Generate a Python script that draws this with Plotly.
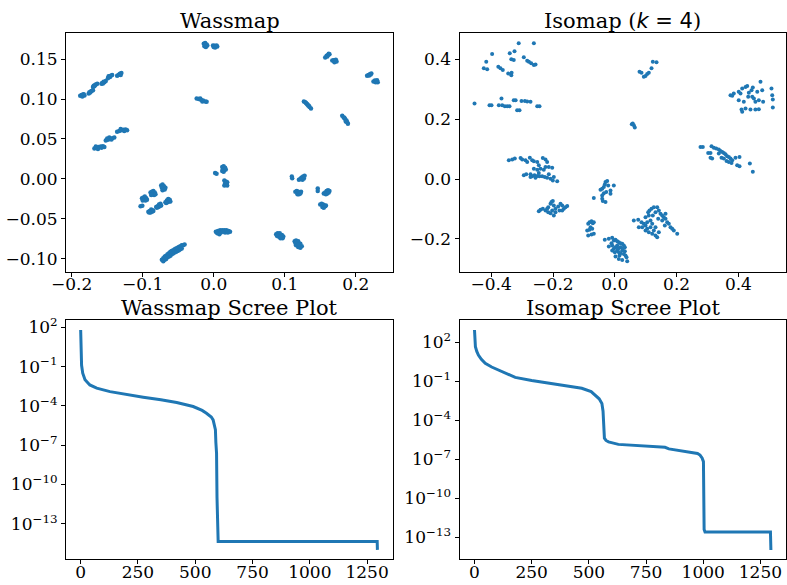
import plotly.graph_objects as go

W, H = 787, 585
BLUE = "#1f77b4"
FONT = "DejaVu Serif"

# ---------------- Wassmap embedding ----------------
wass_pts = [
    # top middle pair
    (-0.014,0.169),(-0.012,0.170),(-0.010,0.168),(-0.013,0.166),(-0.011,0.165),(-0.009,0.167),(-0.012,0.1675),
    (-0.001,0.167),(0.001,0.1665),(0.003,0.166),(0.005,0.1655),(0.002,0.1645),(0.000,0.165),(0.004,0.167),
    # upper-left chain
    (-0.188,0.104),(-0.186,0.105),(-0.184,0.1055),(-0.182,0.1045),(-0.185,0.103),(-0.183,0.106),
    (-0.176,0.107),(-0.174,0.108),(-0.172,0.110),(-0.170,0.111),(-0.173,0.1095),(-0.175,0.1085),
    (-0.170,0.115),(-0.168,0.116),(-0.166,0.118),(-0.164,0.119),(-0.167,0.1175),(-0.169,0.1165),
    (-0.158,0.119),(-0.156,0.1195),(-0.154,0.121),(-0.152,0.1225),(-0.155,0.1215),(-0.157,0.120),
    (-0.149,0.126),(-0.147,0.128),(-0.145,0.129),(-0.143,0.130),(-0.146,0.1275),(-0.148,0.1285),
    (-0.136,0.129),(-0.134,0.130),(-0.132,0.1315),(-0.130,0.1325),(-0.133,0.1305),(-0.131,0.130),
    # second chain
    (-0.168,0.038),(-0.165,0.039),(-0.162,0.040),(-0.159,0.0405),(-0.156,0.041),(-0.154,0.040),(-0.163,0.0375),(-0.158,0.039),(-0.166,0.0405),
    (-0.152,0.048),(-0.149,0.049),(-0.146,0.050),(-0.143,0.051),(-0.140,0.052),(-0.147,0.052),(-0.144,0.0495),(-0.150,0.0505),
    (-0.136,0.059),(-0.133,0.060),(-0.130,0.061),(-0.127,0.0615),(-0.124,0.062),(-0.122,0.061),(-0.131,0.0625),(-0.126,0.060),
    # near (-0.017, 0.099)
    (-0.024,0.1005),(-0.021,0.100),(-0.018,0.099),(-0.015,0.098),(-0.012,0.097),(-0.010,0.0965),(-0.019,0.1005),(-0.016,0.097),
    # upper right
    (0.157,0.152),(0.159,0.154),(0.161,0.155),(0.163,0.156),(0.160,0.153),(0.162,0.1565),
    (0.167,0.148),(0.169,0.1485),(0.171,0.148),(0.173,0.147),(0.170,0.146),(0.172,0.149),
    (0.216,0.129),(0.218,0.130),(0.220,0.131),(0.222,0.132),(0.219,0.1295),(0.221,0.1305),
    (0.225,0.122),(0.227,0.123),(0.229,0.122),(0.231,0.121),(0.228,0.121),(0.230,0.1235),
    (0.127,0.097),(0.129,0.096),(0.131,0.094),(0.133,0.092),(0.135,0.090),(0.137,0.088),(0.132,0.093),(0.134,0.0915),(0.130,0.095),
    (0.181,0.079),(0.183,0.077),(0.185,0.075),(0.187,0.073),(0.188,0.071),(0.189,0.069),(0.186,0.072),(0.184,0.0765),
    # center
    (0.012,0.015),(0.014,0.016),(0.016,0.014),(0.013,0.012),(0.015,0.011),(0.017,0.012),(0.014,0.009),(0.012,0.010),
    (0.015,-0.002),(0.017,-0.003),(0.019,-0.004),(0.016,-0.006),(0.018,-0.007),(0.015,-0.008),(0.019,-0.008),(0.017,-0.005),
    (0.002,0.0075),(0.004,0.0065),
    # right middle
    (0.120,-0.001),(0.122,0.000),(0.124,0.002),(0.126,0.003),(0.128,0.004),(0.125,-0.001),(0.123,0.001),(0.127,0.0005),
    (0.115,-0.016),(0.117,-0.015),(0.119,-0.016),(0.121,-0.017),(0.123,-0.016),(0.118,-0.019),(0.120,-0.019),(0.122,-0.018),
    (0.110,0.003),(0.1105,0.001),
    (0.155,-0.018),(0.157,-0.017),(0.159,-0.015),(0.161,-0.014),(0.163,-0.015),(0.158,-0.019),(0.160,-0.018),(0.162,-0.017),
    (0.150,-0.032),(0.152,-0.031),(0.154,-0.032),(0.156,-0.033),(0.158,-0.033),(0.153,-0.035),(0.155,-0.036),(0.157,-0.034),
    (0.1465,-0.012),(0.1465,-0.015),
    # left middle group
    (-0.074,-0.008),(-0.072,-0.007),(-0.070,-0.009),(-0.068,-0.011),(-0.071,-0.012),(-0.073,-0.011),(-0.069,-0.013),(-0.072,-0.014),
    (-0.089,-0.017),(-0.087,-0.016),(-0.085,-0.015),(-0.083,-0.017),(-0.086,-0.019),(-0.084,-0.020),(-0.088,-0.020),(-0.082,-0.019),
    (-0.101,-0.024),(-0.099,-0.023),(-0.097,-0.022),(-0.095,-0.024),(-0.098,-0.026),(-0.096,-0.027),(-0.100,-0.027),(-0.094,-0.026),
    (-0.068,-0.029),(-0.066,-0.027),(-0.064,-0.025),(-0.062,-0.026),(-0.065,-0.029),(-0.063,-0.028),(-0.061,-0.028),(-0.067,-0.030),
    (-0.081,-0.035),(-0.079,-0.034),(-0.077,-0.032),(-0.075,-0.031),(-0.078,-0.035),(-0.076,-0.034),(-0.074,-0.033),(-0.080,-0.036),
    (-0.092,-0.041),(-0.090,-0.040),(-0.088,-0.038),(-0.086,-0.039),(-0.089,-0.042),(-0.087,-0.041),(-0.085,-0.040),(-0.091,-0.042),
    (-0.103,-0.034),(-0.1005,-0.0335),
    # lower middle
    (0.003,-0.066),(0.006,-0.065),(0.009,-0.064),(0.012,-0.064),(0.015,-0.064),(0.018,-0.064),(0.021,-0.065),(0.023,-0.066),
    (0.005,-0.068),(0.010,-0.067),(0.016,-0.067),(0.020,-0.067),(0.008,-0.069),(0.013,-0.066),
    (0.088,-0.069),(0.090,-0.068),(0.093,-0.068),(0.096,-0.070),(0.098,-0.072),(0.097,-0.074),(0.094,-0.074),(0.091,-0.072),(0.089,-0.071),(0.095,-0.072),
    (0.114,-0.078),(0.116,-0.077),(0.119,-0.078),(0.122,-0.081),(0.124,-0.084),(0.122,-0.086),(0.119,-0.085),(0.116,-0.083),(0.115,-0.080),(0.120,-0.082),
    # bottom diagonal band
    (-0.073,-0.101),(-0.071,-0.099),(-0.069,-0.097),(-0.067,-0.096),(-0.065,-0.094),(-0.063,-0.093),(-0.061,-0.091),(-0.059,-0.090),
    (-0.057,-0.089),(-0.055,-0.088),(-0.053,-0.087),(-0.051,-0.086),(-0.049,-0.085),(-0.047,-0.084),(-0.045,-0.083),(-0.043,-0.083),(-0.041,-0.082),
    (-0.071,-0.103),(-0.069,-0.101),(-0.067,-0.100),(-0.065,-0.098),(-0.063,-0.097),(-0.061,-0.096),(-0.059,-0.094),(-0.057,-0.093),
    (-0.055,-0.092),(-0.053,-0.091),(-0.051,-0.090),(-0.049,-0.089),(-0.047,-0.088),(-0.045,-0.087),
]
wass_x = [p[0] for p in wass_pts]
wass_y = [p[1] for p in wass_pts]

# ---------------- Isomap embedding ----------------
iso_pts = [
    # top-left group
    (-0.311,0.454),(-0.262,0.454),(-0.397,0.418),(-0.340,0.420),(-0.3246,0.427),(-0.416,0.392),(-0.424,0.370),(-0.413,0.3665),
    (-0.2945,0.4067),(-0.2835,0.395),(-0.278,0.392),(-0.335,0.400),(-0.327,0.398),(-0.377,0.375),(-0.370,0.370),(-0.3625,0.364),
    (-0.345,0.353),(-0.335,0.347),(-0.334,0.355),(-0.2706,0.3866),(-0.262,0.381),(-0.2566,0.383),
    # row near 0.25
    (-0.454,0.2526),(-0.4055,0.247),(-0.399,0.247),(-0.3754,0.247),(-0.3667,0.269),(-0.3644,0.247),(-0.356,0.2436),(-0.348,0.2436),
    (-0.3408,0.2436),(-0.327,0.2637),(-0.321,0.2637),(-0.316,0.230),(-0.3084,0.230),(-0.302,0.261),(-0.291,0.261),(-0.2835,0.259),
    (-0.2728,0.2586),(-0.251,0.2436),(-0.2437,0.2436),
    # top middle
    (0.080,0.3585),(0.0864,0.355),(0.0939,0.3417),(0.0994,0.344),(0.1048,0.3508),(0.110,0.355),(0.1188,0.370),(0.123,0.392),(0.135,0.390),
    (0.058,0.1856),(0.0615,0.180),(0.0647,0.172),(0.055,0.183),
    # top right group
    (0.3744,0.2804),(0.380,0.278),(0.385,0.286),(0.401,0.2915),(0.4068,0.286),(0.4123,0.3028),(0.423,0.308),(0.4285,0.3106),
    (0.4337,0.288),(0.4424,0.297),(0.4447,0.2747),(0.450,0.2693),(0.455,0.258),(0.461,0.2915),(0.466,0.2636),(0.4715,0.325),
    (0.477,0.297),(0.480,0.258),(0.507,0.3028),(0.5094,0.2804),(0.5113,0.266),(0.5113,0.239),(0.401,0.2636),(0.410,0.2324),
    (0.4123,0.2245),(0.423,0.2358),(0.439,0.2324),(0.455,0.2324),(0.466,0.2335),(0.4175,0.258),(0.4317,0.2747),(0.4466,0.306),
    # right middle group
    (0.2773,0.1072),(0.2848,0.1072),(0.3022,0.0871),(0.3097,0.0871),(0.313,0.1095),(0.3204,0.105),(0.328,0.1018),(0.3366,0.0985),
    (0.342,0.0938),(0.3476,0.0905),(0.3528,0.0871),(0.3583,0.0827),(0.3638,0.076),(0.369,0.0737),(0.3744,0.0683),(0.380,0.0626),
    (0.315,0.0683),(0.3097,0.0716),(0.3453,0.0716),(0.3528,0.0683),(0.3615,0.0603),(0.369,0.057),(0.3777,0.0536),(0.396,0.0459),
    (0.4036,0.0425),(0.3906,0.0716),(0.4036,0.0737),(0.437,0.0516),(0.4466,0.0248),(0.3366,0.085),
    # left middle group
    (-0.343,0.0626),(-0.332,0.065),(-0.3236,0.0683),(-0.305,0.0705),(-0.2997,0.065),(-0.289,0.0626),(-0.2835,0.057),(-0.275,0.0716),
    (-0.2673,0.0626),(-0.262,0.0593),(-0.251,0.057),(-0.246,0.0459),(-0.233,0.0705),(-0.2243,0.065),(-0.219,0.057),(-0.262,0.0348),
    (-0.251,0.0315),(-0.2405,0.0348),(-0.2298,0.0315),(-0.2243,0.0402),(-0.2136,0.0402),(-0.2026,0.038),(-0.2945,0.0124),(-0.2867,0.0157),
    (-0.2728,0.0157),(-0.2673,0.009),(-0.260,0.0124),(-0.251,0.010),(-0.2437,0.009),(-0.235,0.009),(-0.2265,0.0067),(-0.219,0.0047),
    (-0.208,0.0013),(-0.1974,0.0067),(-0.2006,-0.0044),(-0.1864,-0.0077),(-0.2728,0.0067),(-0.2566,0.0047),(-0.246,0.0201),(-0.2136,0.0157),
    # cluster near (-0.2, -0.1)
    (-0.246,-0.1072),(-0.2405,-0.1025),(-0.233,-0.0992),(-0.2243,-0.1049),(-0.2155,-0.0938),(-0.208,-0.0824),(-0.205,-0.077),(-0.2006,-0.0737),
    (-0.1974,-0.0881),(-0.2026,-0.1049),(-0.1974,-0.1216),(-0.192,-0.1105),(-0.1832,-0.0915),(-0.1757,-0.0824),(-0.1702,-0.0881),(-0.165,-0.0992),
    (-0.1595,-0.0938),(-0.154,-0.0904),(-0.2155,-0.1105),(-0.208,-0.1139),(-0.192,-0.0992),(-0.219,-0.0992),(-0.179,-0.1049),(-0.1702,-0.1049),
    # center
    (-0.068,-0.0636),(-0.0463,-0.0355),(-0.0408,-0.0322),(-0.0356,-0.0268),(-0.0324,-0.0178),(-0.0301,-0.010),(-0.0246,-0.0067),(-0.0214,-0.0211),
    (-0.0139,-0.0379),(-0.0139,-0.049),(-0.0032,-0.0211),(-0.0408,-0.0546),(-0.0408,-0.0657),(-0.0388,-0.0737),(-0.0301,-0.077),(-0.0278,-0.0436),
    (-0.0356,-0.047),
    # lower-left of center
    (-0.0893,-0.1719),(-0.0861,-0.1494),(-0.0819,-0.144),(-0.0786,-0.1608),(-0.0754,-0.1407),(-0.0712,-0.1474),(-0.068,-0.183),(-0.0754,-0.1853),
    (-0.0861,-0.1886),(-0.0819,-0.1697),(-0.0731,-0.1663),(-0.068,-0.144),
    # bottom dense cluster
    (-0.0324,-0.203),(-0.0194,-0.1997),(-0.0084,-0.1963),(-0.0032,-0.2054),(0.0023,-0.203),(0.0078,-0.2077),(0.0129,-0.211),(0.0184,-0.2144),
    (0.024,-0.2164),(0.0291,-0.2221),(0.0324,-0.2278),(-0.0194,-0.2255),(-0.0084,-0.2221),(-0.0032,-0.2332),(0.0023,-0.2278),(0.0078,-0.2389),
    (0.0129,-0.2446),(0.0184,-0.2479),(0.024,-0.2389),(0.0291,-0.250),(0.0346,-0.2556),(0.0379,-0.2613),(0.0401,-0.2747),(0.024,-0.270),
    (0.0129,-0.2667),(0.0023,-0.259),(-0.0084,-0.2389),(0.0078,-0.2221),(0.0184,-0.2278),(0.0259,-0.2332),(0.0324,-0.2412),(0.0152,-0.2556),
    (0.000,-0.2446),(-0.0107,-0.2144),(0.011,-0.2332),
    # right-bottom cluster
    (0.0615,-0.1384),(0.0777,-0.1608),(0.0757,-0.136),(0.0864,-0.144),(0.0939,-0.1494),(0.0994,-0.1551),(0.1048,-0.144),(0.108,-0.1105),
    (0.1123,-0.1049),(0.1188,-0.0992),(0.1262,-0.0938),(0.1317,-0.1105),(0.1372,-0.0938),(0.1424,-0.1049),(0.1479,-0.1159),(0.1534,-0.1216),
    (0.1586,-0.1273),(0.1641,-0.1327),(0.1696,-0.144),(0.1748,-0.1494),(0.1803,-0.1608),(0.1858,-0.1663),(0.1909,-0.1719),(0.2019,-0.183),
    (0.0887,-0.1608),(0.0994,-0.1719),(0.110,-0.1776),(0.121,-0.183),(0.1317,-0.1886),(0.1372,-0.1943),(0.1048,-0.1663),(0.1155,-0.1608),
    (0.121,-0.1494),(0.1262,-0.1719),(0.1155,-0.1384),(0.1317,-0.1608),(0.1424,-0.1776),(0.1534,-0.1384),(0.1618,-0.1551),(0.1641,-0.1159),
    (0.0994,-0.1273),(0.110,-0.1216),(0.123,-0.1216),(0.1404,-0.1327),
]
iso_x = [p[0] for p in iso_pts]
iso_y = [p[1] for p in iso_pts]

# ---------------- Scree plots ----------------
wass_scree_idx = [0, 1, 2, 4, 9, 19, 40, 70, 128, 200, 273, 350, 419, 491, 530, 549, 570, 578, 585, 588,
                  590, 593, 595, 597, 600, 1294, 1295]
wass_scree_val = [63, 3.2, 0.5, 0.126, 0.0316, 0.01, 4.0e-3, 2.24e-3, 1.23e-3, 7.2e-4, 4.6e-4, 2.9e-4, 1.8e-4,
                  8.9e-5, 4.5e-5, 2.75e-5, 1.4e-5, 8.5e-6, 3.2e-6, 1.5e-6, 1.6e-7, 2.5e-8, 1e-11, 6.3e-15,
                  4.3e-15, 4.3e-15, 1.0e-15]

iso_scree_idx = [0, 2, 4, 10, 17, 30, 47, 75, 105, 140, 178, 250, 323, 400, 469, 510, 527, 545, 557, 562,
                 564, 568, 575, 586, 629, 700, 760, 833, 850, 877, 950, 975, 986, 995, 1001, 1004, 1008,
                 1294, 1296]
iso_scree_val = [891, 158, 45.7, 20, 10.5, 5.0, 2.4, 1.26, 0.74, 0.4, 0.2, 0.117, 0.071, 0.045, 0.029,
                 0.016, 8.9e-3, 4.5e-3, 2.0e-3, 5.0e-4, 1.05e-4, 4.2e-6, 2.8e-6, 2.2e-6, 1.4e-6, 1.17e-6,
                 1.05e-6, 8.3e-7, 6.3e-7, 5.2e-7, 3.2e-7, 2.8e-7, 2.1e-7, 1.26e-7, 6.6e-8, 4.0e-13,
                 2.5e-13, 2.5e-13, 1.05e-14]

log_tickvals = [1e2, 1e-1, 1e-4, 1e-7, 1e-10, 1e-13]
log_ticktext = ["10<sup>2</sup>", "10<sup>\u22121</sup>", "10<sup>\u22124</sup>", "10<sup>\u22127</sup>",
                "10<sup>\u221210</sup>", "10<sup>\u221213</sup>"]

fig = go.Figure()
fig.add_trace(go.Scatter(x=wass_x, y=wass_y, mode="markers", xaxis="x", yaxis="y",
                         marker=dict(color=BLUE, size=4.5, line=dict(width=0)), showlegend=False))
fig.add_trace(go.Scatter(x=iso_x, y=iso_y, mode="markers", xaxis="x2", yaxis="y2",
                         marker=dict(color=BLUE, size=4, line=dict(width=0)), showlegend=False))
fig.add_trace(go.Scatter(x=wass_scree_idx, y=wass_scree_val, mode="lines", xaxis="x3", yaxis="y3",
                         line=dict(color=BLUE, width=3), showlegend=False))
fig.add_trace(go.Scatter(x=iso_scree_idx, y=iso_scree_val, mode="lines", xaxis="x4", yaxis="y4",
                         line=dict(color=BLUE, width=3), showlegend=False))

def px_x(p):
    return p / W

def px_y(p):
    return 1 - p / H

common = dict(showline=True, linecolor="black", linewidth=1, mirror=True, showgrid=False, zeroline=False,
              ticks="outside", ticklen=4, tickwidth=1, tickcolor="black", automargin=False,
              tickfont=dict(family=FONT, size=17, color="black"))
xcommon = dict(common, ticklabelstandoff=-7)

L1, R1 = px_x(66), px_x(393)
L2, R2 = px_x(459.5), px_x(786)
T1, B1 = px_y(32.7), px_y(272)
T2, B2 = px_y(320), px_y(559.3)

fig.update_layout(
    width=W, height=H, margin=dict(l=0, r=0, t=0, b=0, pad=0),
    paper_bgcolor="white", plot_bgcolor="white",
    xaxis=dict(domain=[L1, R1], anchor="y", range=[-0.208, 0.2525], tickvals=[-0.2, -0.1, 0.0, 0.1, 0.2],
               ticktext=["\u22120.2", "\u22120.1", "0.0", "0.1", "0.2"], **xcommon),
    yaxis=dict(domain=[B1, T1], anchor="x", range=[-0.1163, 0.1829],
               tickvals=[-0.10, -0.05, 0.0, 0.05, 0.10, 0.15],
               ticktext=["\u22120.10", "\u22120.05", "0.00", "0.05", "0.10", "0.15"], **common),
    xaxis2=dict(domain=[L2, R2], anchor="y2", range=[-0.5026, 0.554], tickvals=[-0.4, -0.2, 0.0, 0.2, 0.4],
                ticktext=["\u22120.4", "\u22120.2", "0.0", "0.2", "0.4"], **xcommon),
    yaxis2=dict(domain=[B1, T1], anchor="x2", range=[-0.3105, 0.489], tickvals=[-0.2, 0.0, 0.2, 0.4],
                ticktext=["\u22120.2", "0.0", "0.2", "0.4"], **common),
    xaxis3=dict(domain=[L1, R1], anchor="y3", range=[-64, 1363], tickvals=[0, 250, 500, 750, 1000, 1250], **xcommon),
    yaxis3=dict(domain=[B2, T2], anchor="x3", type="log", range=[-15.72, 2.56],
                tickvals=log_tickvals, ticktext=log_ticktext, **common),
    xaxis4=dict(domain=[L2, R2], anchor="y4", range=[-65.6, 1362], tickvals=[0, 250, 500, 750, 1000, 1250], **xcommon),
    yaxis4=dict(domain=[B2, T2], anchor="x4", type="log", range=[-14.7, 3.72],
                tickvals=log_tickvals, ticktext=log_ticktext, **common),
)

titles = [
    ("Wassmap", (66 + 393) / 2, 21),
    ("Isomap (<span style='font-family:DejaVu Sans'><i>k</i> = 4</span>)", (459.5 + 786) / 2, 21),
    ("Wassmap Scree Plot", (66 + 393) / 2, 308),
    ("Isomap Scree Plot", (459.5 + 786) / 2, 308),
]
for text, cx, cy in titles:
    fig.add_annotation(text=text, x=px_x(cx), y=px_y(cy), xref="paper", yref="paper",
                       xanchor="center", yanchor="middle", showarrow=False,
                       font=dict(family=FONT, size=21, color="black"))

fig.write_html("out.html")
